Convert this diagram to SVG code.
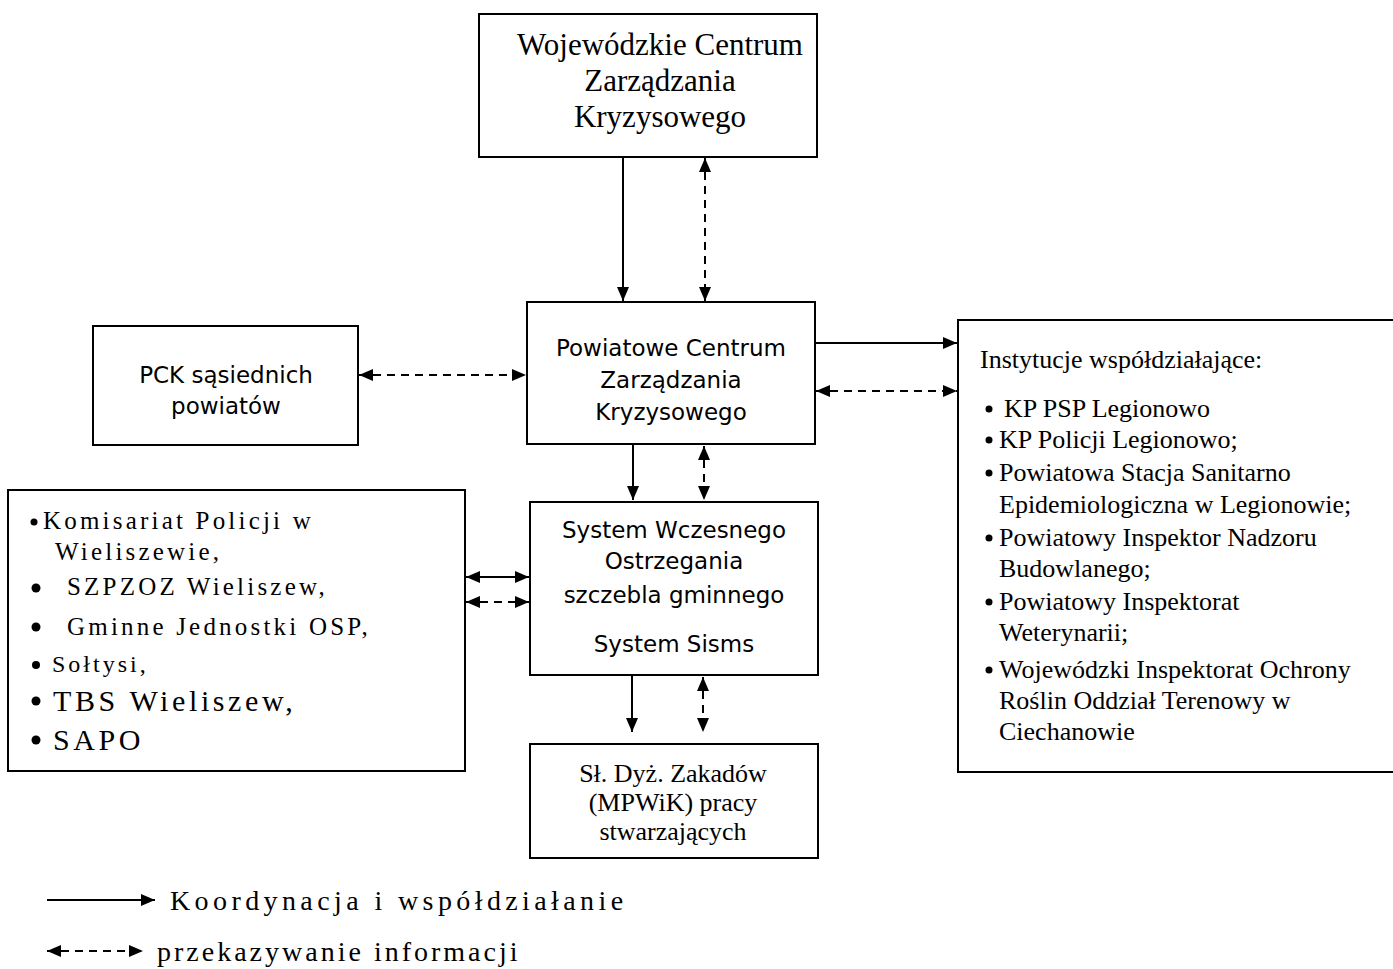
<svg xmlns="http://www.w3.org/2000/svg" width="1393" height="969" viewBox="0 0 1393 969">
<style>
.box{fill:#fff;stroke:#000;stroke-width:2}
.sans{font-family:"DejaVu Sans",Verdana,sans-serif;font-size:23px;fill:#000;text-anchor:middle}
.serif{font-family:"Liberation Serif","Times New Roman",serif;fill:#000}
.c{text-anchor:middle}
.ln{stroke:#000;stroke-width:2;fill:none}
.d{stroke-dasharray:8 6}
.bul{fill:#000}
</style>
<defs>
<marker id="ah" viewBox="0 0 14 12" refX="14" refY="6" markerWidth="14" markerHeight="12" markerUnits="userSpaceOnUse" orient="auto-start-reverse">
<path d="M0,0 L14,6 L0,12 z" fill="#000"/>
</marker>
</defs>
<rect width="1393" height="969" fill="#fff"/>

<g id="wczk">
<rect class="box" x="479" y="14" width="338" height="143"/>
<text class="serif c" font-size="31" x="660" y="55">Wojewódzkie Centrum</text>
<text class="serif c" font-size="31" x="660" y="91">Zarządzania</text>
<text class="serif c" font-size="31" x="660" y="127">Kryzysowego</text>
</g>

<g id="pczk">
<rect class="box" x="527" y="302" width="288" height="142"/>
<text class="sans" x="671" y="356">Powiatowe Centrum</text>
<text class="sans" x="671" y="388">Zarządzania</text>
<text class="sans" x="671" y="420">Kryzysowego</text>
</g>

<g id="pck">
<rect class="box" x="93" y="326" width="265" height="119"/>
<text class="sans" x="226" y="383">PCK sąsiednich</text>
<text class="sans" x="226" y="414">powiatów</text>
</g>

<g id="instytucje">
<rect class="box" x="958" y="320" width="445" height="452"/>
<g class="serif" font-size="26">
<text x="980" y="368">Instytucje współdziałające:</text>
<circle class="bul" cx="989" cy="409" r="3.5"/><text x="1004" y="417">KP PSP Legionowo</text>
<circle class="bul" cx="989" cy="440" r="3.5"/><text x="999" y="448">KP Policji Legionowo;</text>
<circle class="bul" cx="989" cy="473" r="3.5"/><text x="999" y="481">Powiatowa Stacja Sanitarno</text>
<text x="999" y="513">Epidemiologiczna w Legionowie;</text>
<circle class="bul" cx="989" cy="538" r="3.5"/><text x="999" y="546">Powiatowy Inspektor Nadzoru</text>
<text x="999" y="577">Budowlanego;</text>
<circle class="bul" cx="989" cy="602" r="3.5"/><text x="999" y="610">Powiatowy Inspektorat</text>
<text x="999" y="641">Weterynarii;</text>
<circle class="bul" cx="989" cy="670" r="3.5"/><text x="999" y="678">Wojewódzki Inspektorat Ochrony</text>
<text x="999" y="709">Roślin Oddział Terenowy w</text>
<text x="999" y="740">Ciechanowie</text>
</g>
</g>

<g id="gmina">
<rect class="box" x="8" y="490" width="457" height="281"/>
<g class="serif">
<circle class="bul" cx="34" cy="522" r="3.5"/>
<text x="43" y="529" font-size="25" letter-spacing="3.2">Komisariat Policji w</text>
<text x="55" y="560" font-size="25" letter-spacing="3.2">Wieliszewie,</text>
<circle class="bul" cx="36" cy="588" r="4.5"/>
<text x="67" y="595" font-size="25" letter-spacing="3.2">SZPZOZ Wieliszew,</text>
<circle class="bul" cx="36" cy="627" r="4.5"/>
<text x="67" y="635" font-size="25" letter-spacing="3.2">Gminne Jednostki OSP,</text>
<circle class="bul" cx="36" cy="665" r="4"/>
<text x="52" y="672" font-size="24" letter-spacing="3">Sołtysi,</text>
<circle class="bul" cx="36" cy="701" r="4.5"/>
<text x="53" y="711" font-size="30" letter-spacing="3.6">TBS Wieliszew,</text>
<circle class="bul" cx="36" cy="740" r="4.5"/>
<text x="53" y="750" font-size="30" letter-spacing="3.6">SAPO</text>
</g>
</g>

<g id="swo">
<rect class="box" x="530" y="502" width="288" height="173"/>
<text class="sans" x="674" y="538">System Wczesnego</text>
<text class="sans" x="674" y="569">Ostrzegania</text>
<text class="sans" x="674" y="603">szczebla gminnego</text>
<text class="sans" x="674" y="652">System Sisms</text>
</g>

<g id="sldyz">
<rect class="box" x="530" y="744" width="288" height="114"/>
<text class="serif c" font-size="26" x="673" y="782">Sł. Dyż. Zakadów</text>
<text class="serif c" font-size="26" x="673" y="811">(MPWiK) pracy</text>
<text class="serif c" font-size="26" x="673" y="840">stwarzających</text>
</g>

<g id="connectors">
<line class="ln" x1="623" y1="158" x2="623" y2="301" marker-end="url(#ah)"/>
<line class="ln d" x1="705" y1="158" x2="705" y2="301" marker-start="url(#ah)" marker-end="url(#ah)"/>
<line class="ln d" x1="359" y1="375" x2="526" y2="375" marker-start="url(#ah)" marker-end="url(#ah)"/>
<line class="ln" x1="816" y1="343" x2="957" y2="343" marker-end="url(#ah)"/>
<line class="ln d" x1="816" y1="391" x2="957" y2="391" marker-start="url(#ah)" marker-end="url(#ah)"/>
<line class="ln" x1="633" y1="445" x2="633" y2="500" marker-end="url(#ah)"/>
<line class="ln d" x1="704" y1="446" x2="704" y2="500" marker-start="url(#ah)" marker-end="url(#ah)"/>
<line class="ln" x1="466" y1="577" x2="529" y2="577" marker-start="url(#ah)" marker-end="url(#ah)"/>
<line class="ln d" x1="466" y1="602" x2="529" y2="602" marker-start="url(#ah)" marker-end="url(#ah)"/>
<line class="ln" x1="632" y1="676" x2="632" y2="732" marker-end="url(#ah)"/>
<line class="ln d" x1="703" y1="677" x2="703" y2="732" marker-start="url(#ah)" marker-end="url(#ah)"/>
</g>

<g id="legend">
<line class="ln" x1="47" y1="900" x2="155" y2="900" marker-end="url(#ah)"/>
<line class="ln d" x1="47" y1="951" x2="143" y2="951" marker-start="url(#ah)" marker-end="url(#ah)"/>
<text class="serif" font-size="28" letter-spacing="4.4" x="170" y="910">Koordynacja i współdziałanie</text>
<text class="serif" font-size="28" letter-spacing="3" x="157" y="961">przekazywanie informacji</text>
</g>
</svg>
